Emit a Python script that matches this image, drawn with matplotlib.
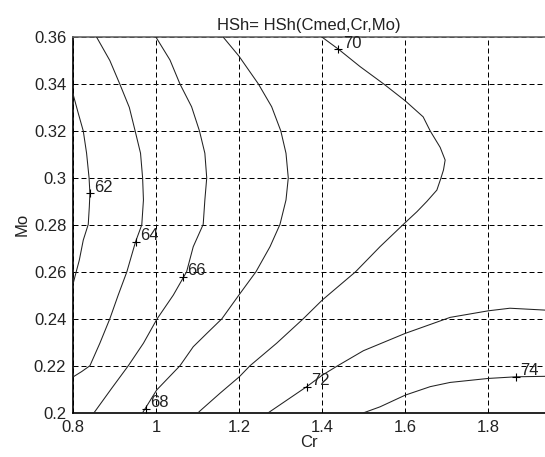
import matplotlib
matplotlib.use("Agg")
import matplotlib.pyplot as plt

plt.rcParams['font.family'] = ['Liberation Sans', 'DejaVu Sans']

# ---- data (Cr on x, Mo on y) ----
levels = [62, 64, 66, 68, 70, 72, 74]

cr62 = [0.800, 0.812, 0.824, 0.832, 0.838, 0.840, 0.8386, 0.836, 0.824, 0.8145, 0.804, 0.800]
mo62 = [0.3353, 0.3275, 0.320, 0.3105, 0.300, 0.2934, 0.2877, 0.2802, 0.2735, 0.265, 0.258, 0.2552]

cr64 = [0.856, 0.888, 0.912, 0.935, 0.949, 0.962, 0.967, 0.969, 0.965, 0.950, 0.929, 0.908, 0.888, 0.864, 0.840, 0.820, 0.800]
mo64 = [0.360, 0.350, 0.340, 0.330, 0.320, 0.3105, 0.300, 0.2906, 0.280, 0.2728, 0.260, 0.250, 0.240, 0.2296, 0.220, 0.2175, 0.2153]

cr66 = [0.999, 1.033, 1.057, 1.085, 1.104, 1.117, 1.1215, 1.117, 1.113, 1.089, 1.073, 1.041, 1.002, 0.969, 0.9325, 0.8925, 0.850]
mo66 = [0.360, 0.3502, 0.340, 0.3303, 0.320, 0.3105, 0.300, 0.2906, 0.2802, 0.2707, 0.260, 0.2501, 0.240, 0.2296, 0.220, 0.2104, 0.200]

cr68 = [1.161, 1.199, 1.246, 1.278, 1.300, 1.3125, 1.318, 1.3125, 1.298, 1.274, 1.240, 1.199, 1.158, 1.123, 1.089, 1.057, 1.001, 0.967]
mo68 = [0.360, 0.3519, 0.340, 0.3303, 0.320, 0.3105, 0.300, 0.2906, 0.2802, 0.2707, 0.260, 0.2501, 0.240, 0.234, 0.2281, 0.220, 0.2097, 0.200]

cr70 = [1.399, 1.439, 1.491, 1.548, 1.600, 1.643, 1.660, 1.684, 1.696, 1.692, 1.686, 1.676, 1.652, 1.628, 1.600, 1.539, 1.480, 1.400, 1.354, 1.290, 1.2257, 1.200, 1.1535, 1.103]
mo70 = [0.360, 0.3548, 0.3474, 0.340, 0.3328, 0.326, 0.320, 0.313, 0.3076, 0.3034, 0.300, 0.2948, 0.290, 0.2856, 0.281, 0.2707, 0.260, 0.248, 0.240, 0.2296, 0.220, 0.2153, 0.2083, 0.2004]

cr72 = [1.270, 1.3624, 1.400, 1.437, 1.499, 1.600, 1.708, 1.800, 1.852, 1.937]
mo72 = [0.200, 0.2111, 0.216, 0.220, 0.2264, 0.2338, 0.2406, 0.2434, 0.2445, 0.2437]

cr74 = [1.500, 1.539, 1.600, 1.660, 1.708, 1.800, 1.867, 1.937]
mo74 = [0.200, 0.2025, 0.2075, 0.2111, 0.2129, 0.2146, 0.2153, 0.2155]

label_text = ['62', '64', '66', '68', '70', '72', '74']
label_cr = [0.840, 0.950, 1.065, 0.975, 1.439, 1.3624, 1.867]
label_mo = [0.2934, 0.2728, 0.258, 0.2016, 0.3548, 0.2111, 0.2153]

xticks = [0.8, 1.0, 1.2, 1.4, 1.6, 1.8]
xticklabels = ['0.8', '1', '1.2', '1.4', '1.6', '1.8']
yticks = [0.20, 0.22, 0.24, 0.26, 0.28, 0.30, 0.32, 0.34, 0.36]
yticklabels = ['0.2', '0.22', '0.24', '0.26', '0.28', '0.3', '0.32', '0.34', '0.36']

title = 'HSh= HSh(Cmed,Cr,Mo)'
xlabel = 'Cr'
ylabel = 'Mo'

# ---- figure ----
fig = plt.figure(figsize=(5.45, 4.57), dpi=100)
ax = fig.add_axes([0.1345, 0.0969, 0.8655, 0.8221])

fs = 12
lines_cr = [cr62, cr64, cr66, cr68, cr70, cr72, cr74]
lines_mo = [mo62, mo64, mo66, mo68, mo70, mo72, mo74]
for xs, ys in zip(lines_cr, lines_mo):
    ax.plot(xs, ys, color='#222222', lw=0.75, zorder=3)

for t, x, y in zip(label_text, label_cr, label_mo):
    ax.plot([x], [y], marker='+', color='black', ms=6, mew=0.8, zorder=4)
    ax.annotate(t, (x, y), xytext=(3, -1), textcoords='offset points',
                ha='left', va='bottom', fontsize=fs, color='#222222', zorder=5)

ax.set_xlim(0.8, 1.9366)
ax.set_ylim(0.2, 0.36)
ax.set_xticks(xticks)
ax.set_xticklabels(xticklabels)
ax.set_yticks(yticks)
ax.set_yticklabels(yticklabels)
ax.tick_params(direction='in', length=0, labelsize=fs, pad=5, colors='#222222')

ax.grid(True, color='black', linestyle=(0, (5, 3)), linewidth=0.72)
ax.set_axisbelow(True)

for side in ['left', 'bottom']:
    ax.spines[side].set_color('black')
    ax.spines[side].set_linewidth(1.2)
ax.spines['top'].set_color('#666666')
ax.spines['top'].set_linewidth(1.2)
ax.spines['right'].set_visible(False)

ax.set_title(title, fontsize=fs, color='#222222', pad=5)
ax.set_xlabel(xlabel, fontsize=fs, color='#222222', labelpad=0)
ax.set_ylabel(ylabel, fontsize=fs, color='#222222', labelpad=3)

fig.savefig('out.png', dpi=100)
